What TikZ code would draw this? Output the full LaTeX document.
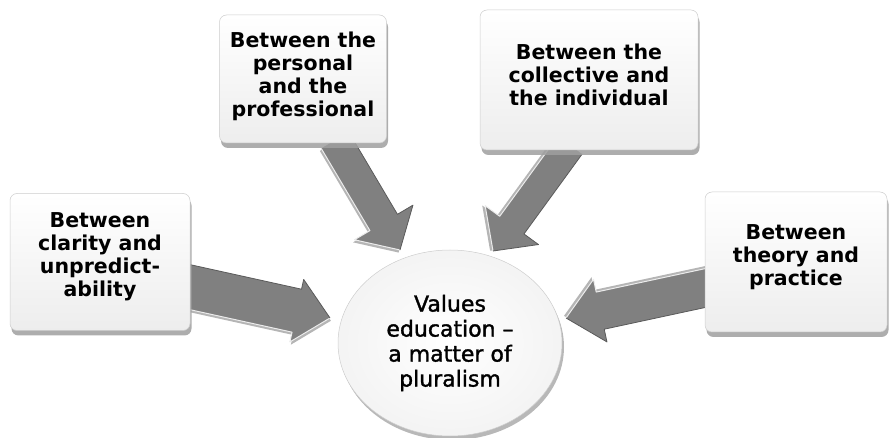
\documentclass[tikz,border=0pt]{standalone}
\usepackage{fontspec}
\setmainfont{DejaVu Sans}
\newfontfamily\hubfont[FakeBold=1.5]{DejaVu Sans}
\usetikzlibrary{calc,shapes.geometric,shadows}

\pgfdeclarelayer{background}
\pgfsetlayers{background,main}

\definecolor{arrowgray}{RGB}{128,128,128}
\definecolor{arrowdark}{RGB}{90,90,90}
\definecolor{boxedge}{RGB}{205,205,205}

% Block arrow from #1 to tip #2: shaft half-width #3, head half-width #4, head length #5
\newcommand{\blockarrow}[5]{%
  \path let \p1=($(#2)-(#1)$) in \pgfextra{%
    \pgfmathsetmacro\arang{atan2(\y1,\x1)}%
    \pgfmathsetmacro\arlen{veclen(\x1,\y1)}%
    \global\let\arang\arang\global\let\arlen\arlen};
  \begin{scope}[shift={(#1)}, rotate=\arang, x=1pt, y=1pt]
    \fill[arrowdark, opacity=.45, shift={(1.5,-2.5)}]
      (0,-#3) -- (\arlen-#5,-#3) -- (\arlen-#5,-#4) -- (\arlen,0)
      -- (\arlen-#5,#4) -- (\arlen-#5,#3) -- (0,#3) -- cycle;
    \fill[arrowgray]
      (0,-#3) -- (\arlen-#5,-#3) -- (\arlen-#5,-#4) -- (\arlen,0)
      -- (\arlen-#5,#4) -- (\arlen-#5,#3) -- (0,#3) -- cycle;
    \draw[white!85!gray, line width=1pt, line join=round]
      (0,-#3) -- (\arlen-#5,-#3) -- (\arlen-#5,-#4) -- (\arlen,0);
    \draw[arrowdark, line width=.8pt, line join=round]
      (\arlen,0) -- (\arlen-#5,#4) -- (\arlen-#5,#3) -- (0,#3);
  \end{scope}}

\begin{document}
\begin{tikzpicture}[x=1pt,y=-1pt,
  box/.style={rectangle, rounded corners=7pt, inner sep=4pt,
    top color=white, bottom color=gray!14, draw=boxedge, line width=.5pt,
    drop shadow={shadow xshift=1.5pt, shadow yshift=-5pt, fill=gray!75, opacity=.85}},
  boxtext/.style={align=center, yshift=5pt, font=\bfseries\fontsize{20.5}{23}\selectfont},
  hub/.style={ellipse, inner sep=0pt, minimum width=224pt, minimum height=186pt,
    inner color=white, outer color=gray!9, draw=boxedge, line width=.5pt,
    align=center, font=\hubfont\fontsize{22}{25}\selectfont,
    drop shadow={shadow xshift=2pt, shadow yshift=-4pt, fill=gray!70, opacity=.8}}]

\useasboundingbox (0,0) rectangle (889,438);

% Outer boxes
\node[box, minimum width=180pt, minimum height=137pt,
  label={[boxtext]center:{Between\\clarity and\\unpredict-\\ability}}] (A) at (100,262) {};
\node[box, minimum width=167pt, minimum height=128pt,
  label={[boxtext, yshift=-2pt]center:{Between the\\personal\\and the\\professional}}] (B) at (303,79) {};
\node[box, minimum width=218pt, minimum height=140pt,
  label={[boxtext]center:{Between the\\collective and\\the individual}}] (C) at (589,80) {};
\node[box, minimum width=182pt, minimum height=140pt,
  label={[boxtext]center:{Between\\theory and\\practice}}] (D) at (796,262) {};

% Central ellipse
\node[hub] (V) at (450,343) {Values\\education –\\a matter of\\pluralism};

% Arrow ends
\coordinate (As) at ($(A.east)+(-10,23)$);
\coordinate (Bs) at ($(B.south)+(32,-3)$);
\coordinate (Cs) at ($(C.south)+(-19,-5)$);
\coordinate (Ds) at ($(D.west)+(10,24)$);
\coordinate (At) at ($(V.center)+(-120,-25)$);
\coordinate (Bt) at ($(V.center)+(-50,-93)$);
\coordinate (Ct) at ($(V.center)+(43,-92)$);
\coordinate (Dt) at ($(V.center)+(116,-25)$);

\begin{pgfonlayer}{background}
  \blockarrow{As}{At}{22}{32}{34}
  \blockarrow{Bs}{Bt}{16}{34}{32}
  \blockarrow{Cs}{Ct}{15}{33}{32}
  \blockarrow{Ds}{Dt}{19}{32}{35}
\end{pgfonlayer}
\end{tikzpicture}
\end{document}
